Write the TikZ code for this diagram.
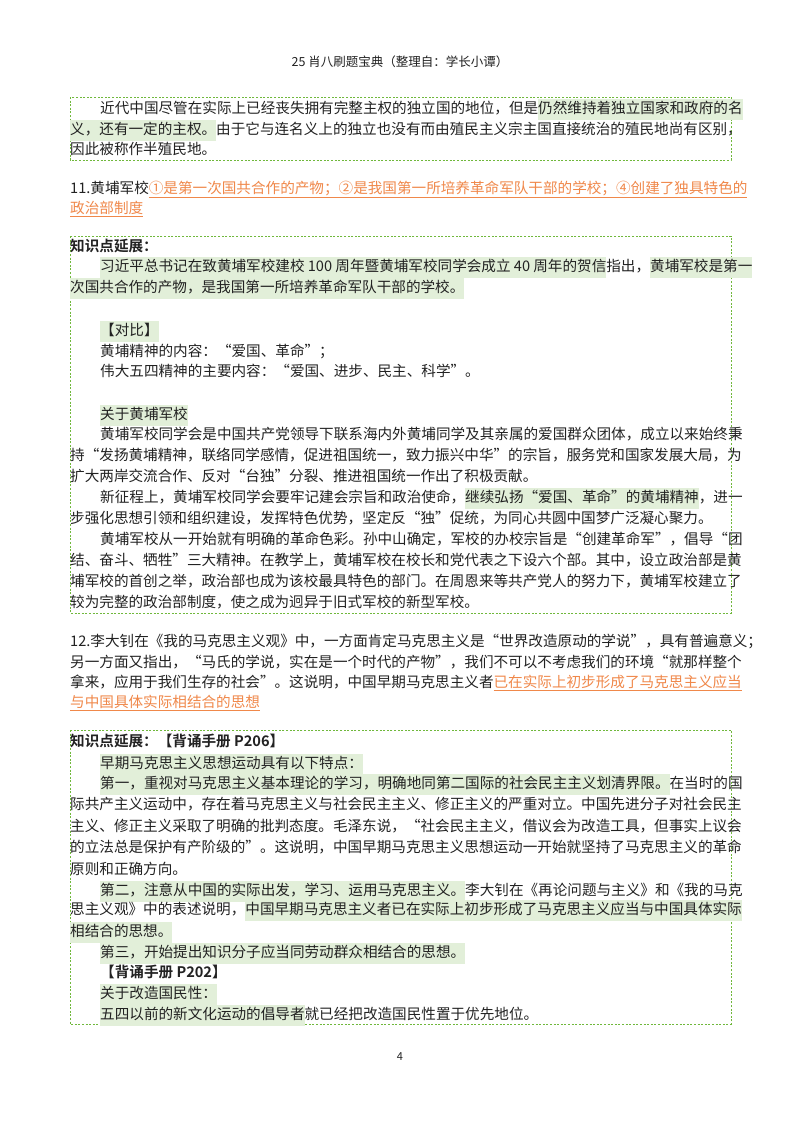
\documentclass[tikz,border=0pt]{standalone}
\usepackage{fontspec}
\setmainfont{Noto Sans CJK SC}
\newfontfamily\boldcjk{Noto Sans CJK SC Bold}
\definecolor{hlg}{HTML}{E2EFD9}
\definecolor{boxg}{HTML}{70B83C}
\definecolor{orng}{HTML}{F0884A}
\definecolor{txt}{HTML}{222222}
\newcommand{\hl}[1]{{\setlength{\fboxsep}{0pt}\colorbox{hlg}{\strut #1}}}
\newcommand{\ulo}[1]{{\color{orng}\underline{#1}}}
\newcommand{\rowtxt}[4]{\node[ln] (#1) at (#2,#3) {\strut #4};}
\begin{document}
\begin{tikzpicture}[x=1pt,y=-1pt,
  ln/.style={anchor=west,inner sep=0pt,font=\fontsize{14.6}{21}\selectfont,text=txt},
  kbox/.style={draw=boxg,line width=0.9pt,dash pattern=on 2pt off 1.6pt}]
\useasboundingbox[fill=white] (0,0) rectangle (800,1132);
\node[font=\fontsize{12.5}{15}\selectfont,text=txt] (hdr) at (400,62) {25 肖八刷题宝典（整理自：学长小谭）};
% box 1
\draw[kbox] (70,97) rectangle (731,160);
\rowtxt{a1}{100}{109}{近代中国尽管在实际上已经丧失拥有完整主权的独立国的地位，但是\hl{仍然维持着独立国家和政府的名}}
\rowtxt{a2}{70}{130}{\hl{义，还有一定的主权。}由于它与连名义上的独立也没有而由殖民主义宗主国直接统治的殖民地尚有区别，}
\rowtxt{a3}{70}{150}{因此被称作半殖民地。}
% item 11
\rowtxt{b1}{70}{189}{11.黄埔军校\ulo{①是第一次国共合作的产物；②是我国第一所培养革命军队干部的学校；④创建了独具特色的}}
\rowtxt{b2}{70}{209}{\ulo{政治部制度}}
% box 2
\draw[kbox] (70,236) rectangle (731,613);
\rowtxt{c0}{70}{247}{\boldcjk 知识点延展：}
\rowtxt{c1}{100}{267}{\hl{习近平总书记在致黄埔军校建校 100 周年暨黄埔军校同学会成立 40 周年的贺信}指出，\hl{黄埔军校是第一}}
\rowtxt{c2}{70}{288}{\hl{次国共合作的产物，是我国第一所培养革命军队干部的学校。}}
\rowtxt{c3}{100}{331}{\hl{【对比】}}
\rowtxt{c4}{100}{352}{黄埔精神的内容：“爱国、革命”；}
\rowtxt{c5}{100}{372}{伟大五四精神的主要内容：“爱国、进步、民主、科学”。}
\rowtxt{c6}{100}{415}{\hl{关于黄埔军校}}
\rowtxt{c7}{100}{435}{黄埔军校同学会是中国共产党领导下联系海内外黄埔同学及其亲属的爱国群众团体，成立以来始终秉}
\rowtxt{c8}{70}{456}{持“发扬黄埔精神，联络同学感情，促进祖国统一，致力振兴中华”的宗旨，服务党和国家发展大局，为}
\rowtxt{c9}{70}{477}{扩大两岸交流合作、反对“台独”分裂、推进祖国统一作出了积极贡献。}
\rowtxt{c10}{100}{498}{新征程上，黄埔军校同学会要牢记建会宗旨和政治使命，\hl{继续弘扬“爱国、革命”的黄埔精神}，进一}
\rowtxt{c11}{70}{519}{步强化思想引领和组织建设，发挥特色优势，坚定反“独”促统，为同心共圆中国梦广泛凝心聚力。}
\rowtxt{c12}{100}{540}{黄埔军校从一开始就有明确的革命色彩。孙中山确定，军校的办校宗旨是“创建革命军”，倡导“团}
\rowtxt{c13}{70}{561}{结、奋斗、牺牲”三大精神。在教学上，黄埔军校在校长和党代表之下设六个部。其中，设立政治部是黄}
\rowtxt{c14}{70}{582}{埔军校的首创之举，政治部也成为该校最具特色的部门。在周恩来等共产党人的努力下，黄埔军校建立了}
\rowtxt{c15}{70}{603}{较为完整的政治部制度，使之成为迥异于旧式军校的新型军校。}
% item 12
\rowtxt{d1}{70}{642}{12.李大钊在《我的马克思主义观》中，一方面肯定马克思主义是“世界改造原动的学说”，具有普遍意义；}
\rowtxt{d2}{70}{663}{另一方面又指出，“马氏的学说，实在是一个时代的产物”，我们不可以不考虑我们的环境“就那样整个}
\rowtxt{d3}{70}{683}{拿来，应用于我们生存的社会”。这说明，中国早期马克思主义者\ulo{已在实际上初步形成了马克思主义应当}}
\rowtxt{d4}{70}{703}{\ulo{与中国具体实际相结合的思想}}
% box 3
\draw[kbox] (70,730) rectangle (731,1024);
\rowtxt{e0}{70}{742}{\boldcjk 知识点延展：【背诵手册 P206】}
\rowtxt{e1}{100}{764}{\hl{早期马克思主义思想运动具有以下特点：}}
\rowtxt{e2}{100}{784}{\hl{第一，重视对马克思主义基本理论的学习，明确地同第二国际的社会民主主义划清界限。}在当时的国}
\rowtxt{e3}{70}{805}{际共产主义运动中，存在着马克思主义与社会民主主义、修正主义的严重对立。中国先进分子对社会民主}
\rowtxt{e4}{70}{827}{主义、修正主义采取了明确的批判态度。毛泽东说，“社会民主主义，借议会为改造工具，但事实上议会}
\rowtxt{e5}{70}{848}{的立法总是保护有产阶级的”。这说明，中国早期马克思主义思想运动一开始就坚持了马克思主义的革命}
\rowtxt{e6}{70}{870}{原则和正确方向。}
\rowtxt{e7}{100}{891}{\hl{第二，注意从中国的实际出发，学习、运用马克思主义。}李大钊在《再论问题与主义》和《我的马克}
\rowtxt{e8}{70}{910}{思主义观》中的表述说明，\hl{中国早期马克思主义者已在实际上初步形成了马克思主义应当与中国具体实际}}
\rowtxt{e9}{70}{932}{\hl{相结合的思想。}}
\rowtxt{e10}{100}{953}{\hl{第三，开始提出知识分子应当同劳动群众相结合的思想。}}
\rowtxt{e11}{100}{973}{\boldcjk 【背诵手册 P202】}
\rowtxt{e12}{100}{994}{\hl{关于改造国民性：}}
\rowtxt{e13}{100}{1015}{\hl{五四以前的新文化运动的倡导者}就已经把改造国民性置于优先地位。}
\node[font=\fontsize{11}{13}\selectfont,text=txt] (pg) at (400,1057) {4};
\end{tikzpicture}
\end{document}
